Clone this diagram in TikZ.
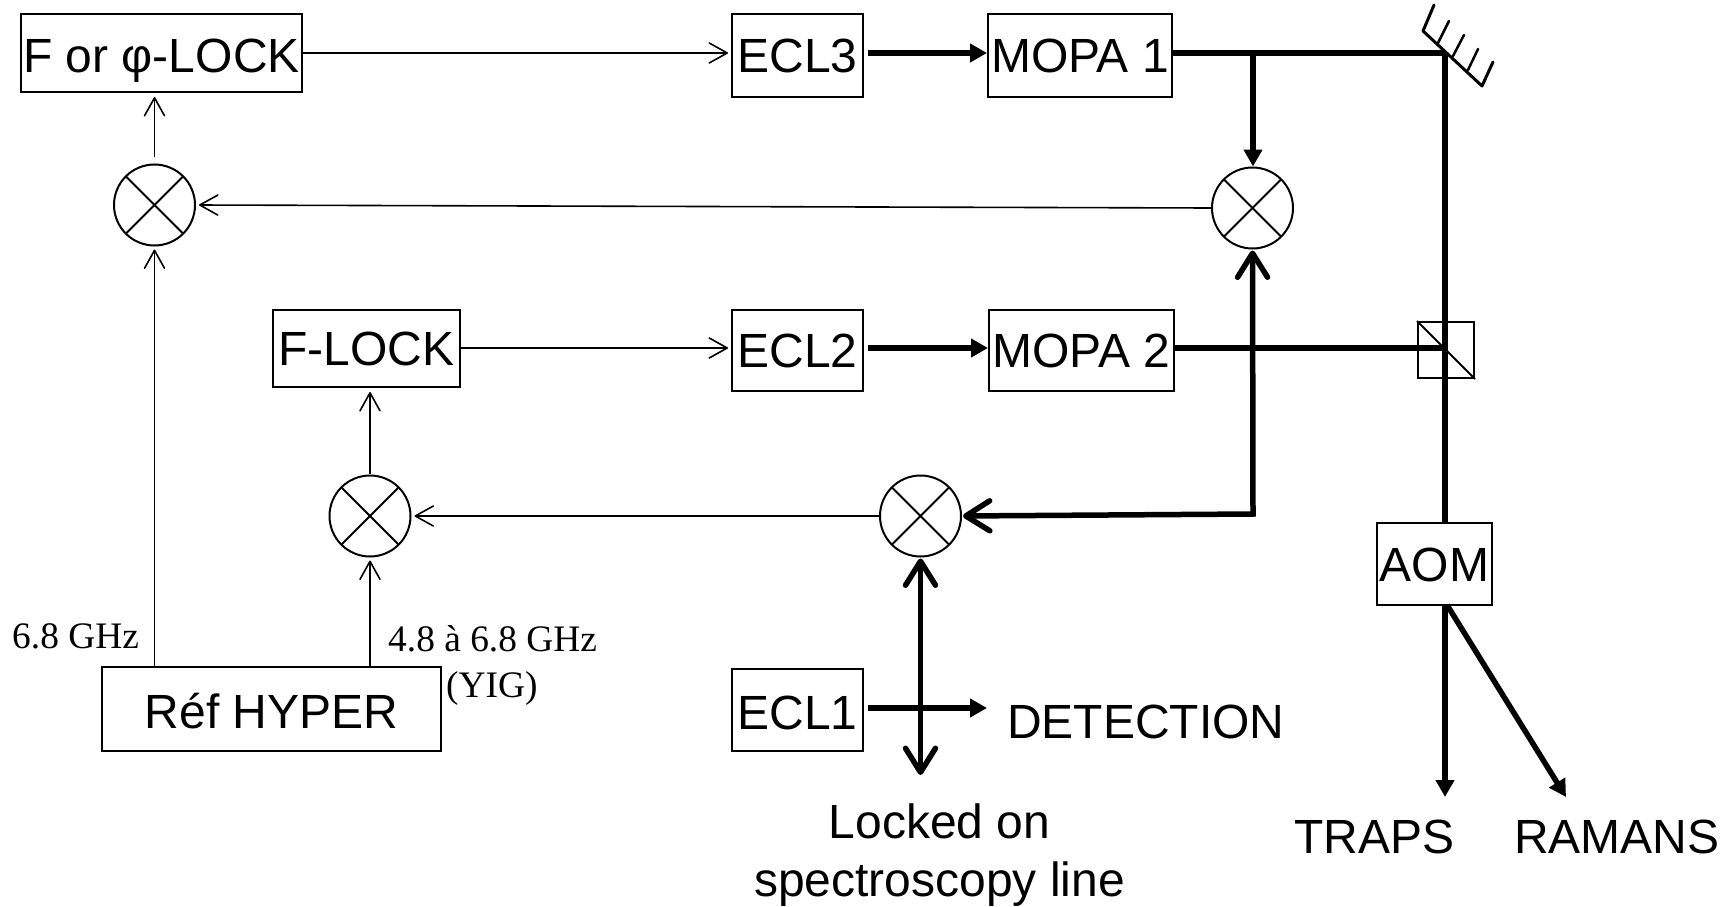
\documentclass[tikz,border=0pt]{standalone}
\usepackage{fontspec}
\setmainfont{Liberation Sans}
\newfontfamily\serifsm{Liberation Serif}
\usetikzlibrary{arrows.meta}
\tikzset{
  labelfont/.style={font=\fontsize{48}{58}\selectfont},
  box/.style={draw=black,line width=2pt,fill=white,inner sep=0pt,labelfont,text height=34.5pt,text depth=0pt},
  lowtext/.style={text height=39pt},
  mixer/.style={draw=black,line width=2pt,circle,minimum size=81pt,inner sep=0pt,
    path picture={\draw[line width=2pt] (path picture bounding box.north west) -- (path picture bounding box.south east)
      (path picture bounding box.north east) -- (path picture bounding box.south west);}},
  thinarrow/.style={line width=1.6pt,-{Straight Barb[length=18pt,width=20pt,round]}},
  beam/.style={line width=5.5pt},
  beamarrow/.style={line width=5.5pt,-{Triangle[length=17pt,width=18pt]}},
  stickboth/.style={line width=5.5pt,{Straight Barb[length=24pt,width=30pt,round]}-{Straight Barb[length=24pt,width=30pt,round]}},
  ghz/.style={anchor=base west,inner sep=0pt,font=\serifsm\fontsize{37.4}{44}\selectfont},
  txt/.style={anchor=base west,inner sep=0pt,labelfont},
}
\begin{document}
\begin{tikzpicture}[x=1pt,y=-1pt]
\useasboundingbox (0,0) rectangle (1732,907);
% boxes
\node[box,lowtext,minimum width=281pt,minimum height=78pt] (F) at (161.5,53) {F or φ-LOCK};
\node[box,minimum width=131pt,minimum height=83pt] (ECLthree) at (797.5,55.5) {ECL3};
\node[box,minimum width=184pt,minimum height=83pt] (MOPAone) at (1080,55.5) {MOPA 1};
\node[box,minimum width=187pt,minimum height=77pt] (FLOCK) at (366.5,348.5) {F-LOCK};
\node[box,minimum width=131pt,minimum height=81pt] (ECLtwo) at (797.5,350.5) {ECL2};
\node[box,minimum width=185pt,minimum height=81pt] (MOPAtwo) at (1081.5,350.5) {MOPA 2};
\node[box,lowtext,minimum width=339pt,minimum height=84pt] (REF) at (271.5,709) {Réf HYPER};
\node[box,lowtext,minimum width=131pt,minimum height=82pt] (ECLone) at (797.5,710) {ECL1};
\node[box,minimum width=115pt,minimum height=82pt] (AOM) at (1434.5,564) {AOM};
% beam splitter
\node[draw=black,line width=2pt,minimum size=56pt,inner sep=0pt] (BS) at (1446,350) {};
\draw[line width=2pt] (BS.north west) -- (BS.south east);
% mixers
\node[mixer] (mixL) at (154.5,205) {};
\node[mixer] (mixR) at (1252.5,208) {};
\node[mixer] (mixM) at (370,516) {};
\node[mixer] (mixC) at (920.5,516) {};
% coordinates
\coordinate (mir) at (1445,53);
\coordinate (branch) at (1253,53);
\coordinate (corner) at (1253,514);
\coordinate (bsc) at (1445,348);
\coordinate (det) at (987,708);
\coordinate (lockend) at (920.5,775);
\coordinate (traps) at (1445,797);
\coordinate (ramans) at (1566,797);
\coordinate (aomout) at (1447,605);
% thin connectors
\draw[thinarrow,shorten >=3pt] (F.east) -- (F.east -| ECLthree.west);
\draw[thinarrow,shorten >=3pt] (FLOCK.east |- bsc) -- (ECLtwo.west |- bsc);
\draw[thinarrow,shorten <=7pt,shorten >=4pt] (mixL.north) -- (F.south -| mixL.north);
\draw[thinarrow,shorten <=1pt,shorten >=4pt] (mixM.north) -- (FLOCK.south -| mixM.north);
\draw[thinarrow,shorten >=3pt] (mixR.west) -- (mixL.east);
\draw[thinarrow,shorten >=3pt] (mixC.west) -- (mixM.east);
\draw[thinarrow,shorten >=3pt] (REF.north -| mixL.south) -- (mixL.south);
\draw[thinarrow,shorten >=3pt] (REF.north -| mixM.south) -- (mixM.south);
% thick connectors
\draw[beamarrow,shorten <=4pt] (ECLthree.east |- F.east) -- (MOPAone.west |- F.east);
\draw[beamarrow,shorten <=4pt] (ECLtwo.east |- bsc) -- (MOPAtwo.west |- bsc);
\draw[beam] (MOPAone.east |- mir) -- (mir);
\draw[beam] (MOPAtwo.east |- bsc) -- (bsc);
\draw[beam] (mir) -- (AOM.north -| mir);
\draw[beamarrow] (branch) -- (branch |- mixR.north);
\draw[stickboth,line join=miter,shorten >=1pt,shorten <=1pt] (mixR.south) -- (corner) -- (mixC.east);
\draw[stickboth,shorten <=1pt] (mixC.south) -- (lockend);
\draw[beamarrow,shorten <=4pt] (ECLone.east |- det) -- (det);
\draw[beamarrow] (AOM.south -| mir) -- (traps);
\draw[beamarrow] (aomout) -- (ramans);
% mirror
\draw[line width=3pt,line join=round,line cap=round] (1434,5) -- (1423,31) -- (1482,86) -- (1493,62);
\draw[line width=2.5pt,line cap=round] (1438,43) -- (1449,21) (1453,56) -- (1464,35) (1468,70) -- (1478,49);
% labels
\node[ghz] (ghzA) at (12,648) {6.8 GHz};
\node[ghz] (ghzB) at (388,651) {4.8 à 6.8 GHz};
\node[ghz] (yig) at (446,697) {(YIG)};
\node[txt] (detect) at (1007,738) {DETECTION};
\node[txt] (trapslabel) at (1294,853) {TRAPS};
\node[txt] (ramanslabel) at (1514,853) {RAMANS};
\node[labelfont,align=center,inner sep=0pt] (locked) at (939.5,855) {Locked on\\spectroscopy line};
\end{tikzpicture}
\end{document}
